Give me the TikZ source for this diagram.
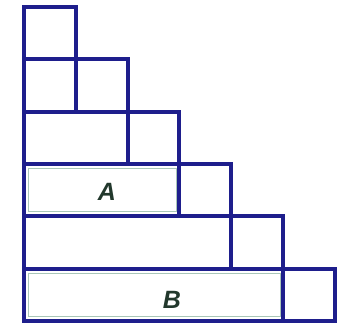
\documentclass[tikz,border=0pt]{standalone}
\usepackage{fontspec}
\newfontfamily\labfont{Liberation Sans}
\begin{document}
\begin{tikzpicture}[x=1pt,y=-1pt,
  box/.style={draw=navy,line width=4pt,line join=miter},
  inner/.style={draw=sage,line width=0.8pt},
  lab/.style={font=\labfont\fontsize{25}{25}\selectfont\bfseries\itshape,text=labc,inner sep=0pt}]
\definecolor{navy}{HTML}{1E1E8C}
\definecolor{sage}{HTML}{A9C6B8}
\definecolor{labc}{HTML}{22382C}
\useasboundingbox (0,0) rectangle (337,329);
\def\sx{51.8}\def\sy{52.3}
% squares and rectangles
\foreach \i in {1,...,6}{
  \pgfmathsetmacro{\ya}{7+\sy*(\i-1)}
  \pgfmathsetmacro{\yb}{7+\sy*\i}
  \pgfmathsetmacro{\xa}{24+\sx*(\i-1)}
  \pgfmathsetmacro{\xb}{24+\sx*\i}
  \ifnum\i>1
    \draw[box] (24,\ya) rectangle (\xa,\yb);
  \fi
  \draw[box] (\xa,\ya) rectangle (\xb,\yb);
}
% faint inner borders of A and B rows
\draw[inner] (28,168) rectangle (176,211);
\draw[inner] (28,273) rectangle (280,316);
\node[lab] (A) at (107,192) {A};
\node[lab] (B) at (172,300) {B};
\end{tikzpicture}
\end{document}
